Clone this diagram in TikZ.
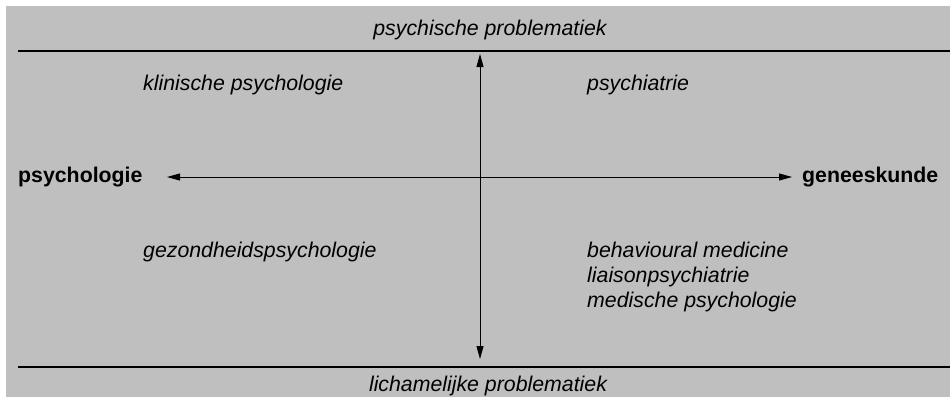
\documentclass[tikz,border=0pt]{standalone}
\usepackage{fontspec}
\setmainfont{Liberation Sans}
\usetikzlibrary{arrows.meta}
\definecolor{bggray}{RGB}{191,191,191}
\begin{document}
\begin{tikzpicture}[x=1pt,y=-1pt,
  lbl/.style={inner sep=0pt,font=\fontsize{21.3}{25}\selectfont\itshape},
  pole/.style={inner sep=0pt,font=\fontsize{21.3}{25}\selectfont\bfseries},
  rule/.style={line width=1.5pt},
  axis/.style={line width=0.9pt,{Triangle[length=13pt,width=7pt]}-{Triangle[length=13pt,width=7pt]}}]
\useasboundingbox (0,0) rectangle (950,397);
\fill[bggray] (6,6) rectangle (950,397);
% rules
\coordinate (tl) at (18,51);
\coordinate (tr) at (950,51);
\coordinate (bl) at (18,367);
\coordinate (br) at (950,367);
\draw[rule] (tl) -- (tr);
\draw[rule] (bl) -- (br);
% axes
\coordinate (vt) at (480,54);
\coordinate (vb) at (480,359);
\coordinate (hl) at (167,177);
\coordinate (hr) at (792,177);
\draw[axis] (vt) -- (vb);
\draw[axis] (hl) -- (hr);
% texts
\node[lbl,anchor=base] (psych) at (490,35) {psychische problematiek};
\node[lbl,anchor=base] (lich) at (488,391) {lichamelijke problematiek};
\node[lbl,anchor=base west] (klin) at (143,90) {klinische psychologie};
\node[lbl,anchor=base west] (psyt) at (587,90) {psychiatrie};
\node[pole,anchor=base west] (psyl) at (18,182) {psychologie};
\node[pole,anchor=base west] (gen) at (802,182) {geneeskunde};
\node[lbl,anchor=base west] (gez) at (143,257) {gezondheidspsychologie};
\node[lbl,anchor=base west] (beh) at (587,257) {behavioural medicine};
\node[lbl,anchor=base west] (lia) at (587,282) {liaisonpsychiatrie};
\node[lbl,anchor=base west] (med) at (587,307) {medische psychologie};
\end{tikzpicture}
\end{document}
